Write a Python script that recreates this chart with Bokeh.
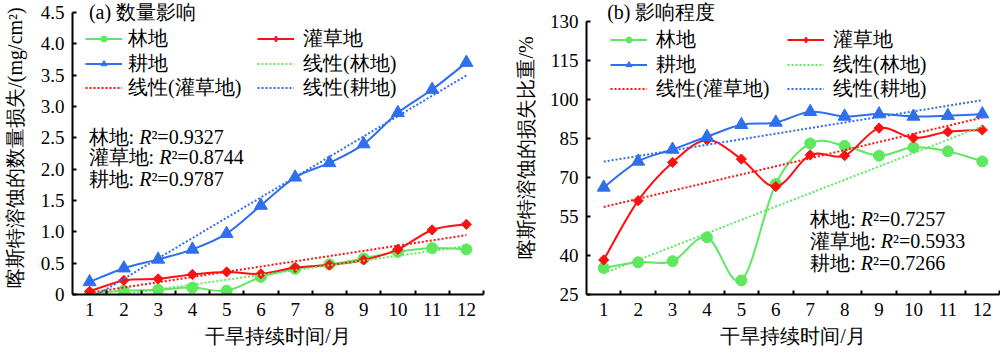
from bokeh.plotting import figure
from bokeh.layouts import row
from bokeh.models import FixedTicker, Legend, LegendItem, Label, PrintfTickFormatter, ColumnDataSource
from bokeh.embed import file_html
from bokeh.resources import INLINE
import numpy as np

# ---------------- data ----------------
months = list(range(1, 13))

# (a) quantity loss, mg/cm2
a_forest = [0.01, 0.06, 0.075, 0.11, 0.06, 0.28, 0.41, 0.48, 0.575, 0.68, 0.74, 0.72]
a_shrub = [0.05, 0.225, 0.25, 0.32, 0.36, 0.33, 0.43, 0.47, 0.55, 0.72, 1.03, 1.12]
a_crop = [0.20, 0.42, 0.56, 0.72, 0.97, 1.42, 1.87, 2.10, 2.40, 2.90, 3.27, 3.70]

# (b) loss proportion, %
b_forest = [35.2, 37.4, 37.8, 47.0, 30.4, 67.5, 83.1, 82.2, 78.4, 81.6, 80.1, 76.2]
b_shrub = [38.3, 61.1, 75.8, 84.4, 77.1, 66.5, 78.7, 78.4, 89.0, 85.2, 87.6, 88.3]
b_crop = [66.2, 76.2, 80.8, 85.7, 90.3, 91.2, 95.3, 93.5, 94.4, 93.5, 93.8, 94.4]

series_names = ["林地", "灌草地", "耕地"]
trend_names = ["线性(林地)", "线性(灌草地)", "线性(耕地)"]
a_r2 = ["0.9327", "0.8744", "0.9787"]
b_r2 = ["0.7257", "0.5933", "0.7266"]

a_yticks = [0, 0.5, 1.0, 1.5, 2.0, 2.5, 3.0, 3.5, 4.0, 4.5]
b_yticks = [25, 40, 55, 70, 85, 100, 115, 130]

COLORS = ["#5FE85F", "#FF1010", "#2F6FEE"]
FONT = "Liberation Serif"
TICK_FONT = "Liberation Serif"
LEG_FONT = "Liberation Serif"
FS = "20px"


def smooth_segments(xs, ys):
    n = len(xs)
    d = {k: [] for k in ["x0", "y0", "x1", "y1", "cx0", "cy0", "cx1", "cy1"]}
    for i in range(n - 1):
        ip = max(i - 1, 0)
        inn = min(i + 2, n - 1)
        d["x0"].append(xs[i]); d["y0"].append(ys[i])
        d["x1"].append(xs[i + 1]); d["y1"].append(ys[i + 1])
        d["cx0"].append(xs[i] + (xs[i + 1] - xs[ip]) / 6.0)
        d["cy0"].append(ys[i] + (ys[i + 1] - ys[ip]) / 6.0)
        d["cx1"].append(xs[i + 1] - (xs[inn] - xs[i]) / 6.0)
        d["cy1"].append(ys[i + 1] - (ys[inn] - ys[i]) / 6.0)
    return ColumnDataSource(d)


def make_panel(width, yrange, ybounds, yticks, ylabel, borders, data, title, title_xy,
               r2, r2_xy, leg_x, leg_y, label_standoff, yfmt=None, ylabel_standoff=10):
    bl, br, bt, bb = borders
    p = figure(width=width, height=356, x_range=(0.5, 12.5), y_range=yrange,
               output_backend="svg", toolbar_location=None,
               min_border_left=bl, min_border_right=br, min_border_top=bt, min_border_bottom=bb)
    p.xgrid.visible = False
    p.ygrid.visible = False
    p.outline_line_color = None

    p.xaxis.ticker = FixedTicker(ticks=months, minor_ticks=[m + 0.5 for m in months])
    p.yaxis.ticker = FixedTicker(ticks=yticks)
    p.yaxis.bounds = ybounds
    if yfmt is not None:
        p.yaxis.formatter = yfmt
        p.yaxis.major_label_overrides = {0: "0"}
    for ax in (p.xaxis[0], p.yaxis[0]):
        ax.axis_line_width = 2
        ax.axis_line_color = "black"
        ax.major_label_text_font = TICK_FONT
        ax.major_label_text_font_size = "19px"
        ax.major_label_text_color = "black"
        ax.axis_label_text_font = FONT
        ax.axis_label_text_font_size = FS
        ax.axis_label_text_font_style = "normal"
        ax.axis_label_text_color = "black"
    xa = p.xaxis[0]
    xa.major_tick_in = 0
    xa.major_tick_out = 0
    xa.minor_tick_in = 4
    xa.minor_tick_out = 0
    xa.minor_tick_line_width = 2
    xa.minor_tick_line_color = "black"
    xa.major_label_standoff = 8
    xa.axis_label = "干旱持续时间/月"
    xa.axis_label_standoff = 6
    ya = p.yaxis[0]
    ya.major_tick_in = 4
    ya.major_tick_out = 0
    ya.major_tick_line_width = 2
    ya.major_tick_line_color = "black"
    ya.minor_tick_in = 0
    ya.minor_tick_out = 0
    ya.major_label_standoff = 8
    ya.axis_label = ylabel
    ya.axis_label_standoff = ylabel_standoff

    xs = np.array(months, dtype=float)
    markers = [("circle", 11, 0.0, "circle"), ("square", 7.2, np.pi / 4, "diamond"),
               ("triangle", 13, 0.0, "triangle")]
    items = []
    trend_items = []
    for k, ys in enumerate(data):
        c = COLORS[k]
        p.bezier(source=smooth_segments(list(xs), list(ys)), x0="x0", y0="y0", x1="x1", y1="y1",
                 cx0="cx0", cy0="cy0", cx1="cx1", cy1="cy1", line_color=c, line_width=2)
        mk, sz, ang, lmk = markers[k]
        p.scatter(xs, ys, marker=mk, size=sz, angle=ang, fill_color=c, line_color=c)
        leg_line = p.line(x=[np.nan], y=[np.nan], line_color=c, line_width=2)
        leg_mk = p.scatter(x=[np.nan], y=[np.nan], marker=lmk, size=6,
                           fill_color=c, line_color=c)
        items.append(LegendItem(label=series_names[k], renderers=[leg_line, leg_mk]))
    for k, ys in enumerate(data):
        c = COLORS[k]
        coef = np.polyfit(xs, np.array(ys), 1)
        tx = np.array([months[0], months[-1]], dtype=float)
        tl = p.line(tx, np.polyval(coef, tx), line_color=c, line_width=2, line_dash="2 2")
        trend_items.append(LegendItem(label=trend_names[k], renderers=[tl]))

    all_items = items + trend_items
    for idx, it in enumerate(all_items):
        r, ccol = divmod(idx, 2)
        lg = Legend(items=[it], location=(leg_x[ccol], leg_y[r]), orientation="vertical",
                    label_text_font=LEG_FONT, label_text_font_size=FS, label_text_color="black",
                    glyph_width=37, glyph_height=15, label_height=20, spacing=0,
                    padding=0, margin=0, label_standoff=label_standoff[ccol],
                    border_line_color=None, background_fill_alpha=0)
        p.add_layout(lg, "center")

    p.add_layout(Label(x=title_xy[0], y=title_xy[1], text=title, text_font=FONT,
                       text_font_size=FS, text_baseline="middle", text_align="left",
                       text_color="black"))
    fs = 20.0
    for i, (nm, val) in enumerate(zip(series_names, r2)):
        x0, y0 = r2_xy[0], r2_xy[1][i]
        w1 = len(nm) * fs + 0.278 * fs + 0.25 * fs
        wR = 0.611 * fs
        p.add_layout(Label(x=x0, y=y0, text=nm + ": ", text_font=FONT, text_font_size=FS,
                           text_baseline="middle", text_align="left", text_color="black"))
        p.add_layout(Label(x=x0, y=y0, x_offset=w1, text="R", text_font=FONT, text_font_size=FS,
                           text_font_style="italic", text_baseline="middle", text_align="left",
                           text_color="black"))
        p.add_layout(Label(x=x0, y=y0, x_offset=w1 + wR, text="²=" + val, text_font=FONT,
                           text_font_size=FS, text_baseline="middle", text_align="left",
                           text_color="black"))
    return p


p1 = make_panel(500, (0, 4.691), (0, 4.5), a_yticks, "喀斯特溶蚀的数量损失/(mg/cm²)", (70, 17, 0, 62),
                [a_forest, a_shrub, a_crop], "(a) 数量影响", (0.98, 4.5),
                a_r2, (0.97, [2.52, 2.19, 1.85]), (13, 185), (242, 217.5, 193), (6, 9),
                yfmt=PrintfTickFormatter(format="%.1f"), ylabel_standoff=12)
p2 = make_panel(500, (25, 138.1), (25, 130), b_yticks, "喀斯特溶蚀的损失比重/%", (86, 1, 0, 62),
                [b_forest, b_shrub, b_crop], "(b) 影响程度", (1.1, 133.5),
                b_r2, (7.0, [54.0, 45.6, 37.1]), (24, 201), (241, 216.5, 192), (9, 9),
                ylabel_standoff=10)

layout = row(p1, p2)
open("out.html", "w").write(file_html(layout, INLINE))
